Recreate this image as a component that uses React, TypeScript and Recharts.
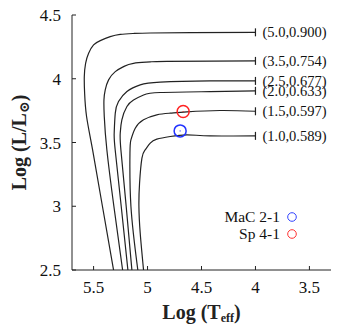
import {
  ComposedChart,
  Line,
  Scatter,
  XAxis,
  YAxis,
  Legend,
} from "recharts";

// post-AGB tracks: log Teff (t) vs log L/Lsun (l)
const track50 = [
  { t: 4.0, l: 4.364 }, { t: 4.6, l: 4.361 }, { t: 4.975, l: 4.359 },
  { t: 5.13, l: 4.355 }, { t: 5.253, l: 4.348 }, { t: 5.346, l: 4.33 },
  { t: 5.438, l: 4.299 }, { t: 5.5, l: 4.265 }, { t: 5.546, l: 4.2 },
  { t: 5.574, l: 4.121 }, { t: 5.586, l: 4.017 }, { t: 5.583, l: 3.886 },
  { t: 5.565, l: 3.704 }, { t: 5.509, l: 3.443 }, { t: 5.418, l: 3.0 },
  { t: 5.315, l: 2.5 },
];
const track35 = [
  { t: 4.0, l: 4.14 }, { t: 4.821, l: 4.137 }, { t: 4.975, l: 4.132 },
  { t: 5.13, l: 4.121 }, { t: 5.222, l: 4.095 }, { t: 5.299, l: 4.056 },
  { t: 5.361, l: 3.991 }, { t: 5.392, l: 3.913 }, { t: 5.404, l: 3.834 },
  { t: 5.401, l: 3.704 }, { t: 5.377, l: 3.443 }, { t: 5.312, l: 3.0 },
  { t: 5.231, l: 2.5 },
];
const track25 = [
  { t: 4.0, l: 3.983 }, { t: 4.42, l: 3.983 }, { t: 4.883, l: 3.973 },
  { t: 5.068, l: 3.952 }, { t: 5.191, l: 3.9 }, { t: 5.269, l: 3.821 },
  { t: 5.299, l: 3.73 }, { t: 5.309, l: 3.573 }, { t: 5.3, l: 3.443 },
  { t: 5.244, l: 3.0 }, { t: 5.182, l: 2.5 },
];
const track20 = [
  { t: 4.0, l: 3.905 }, { t: 4.42, l: 3.899 }, { t: 4.883, l: 3.892 },
  { t: 5.037, l: 3.873 }, { t: 5.13, l: 3.834 }, { t: 5.191, l: 3.782 },
  { t: 5.238, l: 3.678 }, { t: 5.253, l: 3.573 }, { t: 5.247, l: 3.443 },
  { t: 5.198, l: 3.0 }, { t: 5.145, l: 2.5 },
];
const track15 = [
  { t: 4.0, l: 3.745 }, { t: 4.327, l: 3.751 }, { t: 4.636, l: 3.74 },
  { t: 4.79, l: 3.73 }, { t: 4.914, l: 3.717 }, { t: 5.037, l: 3.678 },
  { t: 5.114, l: 3.612 }, { t: 5.154, l: 3.521 }, { t: 5.163, l: 3.416 },
  { t: 5.154, l: 3.0 }, { t: 5.09, l: 2.5 },
];
const track10 = [
  { t: 4.0, l: 3.552 }, { t: 4.42, l: 3.552 }, { t: 4.636, l: 3.56 },
  { t: 4.79, l: 3.547 }, { t: 4.914, l: 3.526 }, { t: 4.975, l: 3.495 },
  { t: 5.022, l: 3.443 }, { t: 5.052, l: 3.377 }, { t: 5.074, l: 3.181 },
  { t: 5.08, l: 3.0 }, { t: 5.068, l: 2.79 }, { t: 5.037, l: 2.5 },
];

const tracks = [track50, track35, track25, track20, track15, track10];
const trackLabels = [
  "(5.0,0.900)",
  "(3.5,0.754)",
  "(2.5,0.677)",
  "(2.0,0.633)",
  "(1.5,0.597)",
  "(1.0,0.589)",
];

const macStar = [{ t: 4.698, l: 3.591 }];
const spStar = [{ t: 4.67, l: 3.743 }];

const tempTicks = [5.5, 5, 4.5, 4, 3.5];
const lumTicks = [2.5, 3, 3.5, 4, 4.5];

const trackEnds = tracks.map((tr, i) => ({
  t: tr[0].t,
  l: tr[0].l,
  name: trackLabels[i],
}));

const FONT = "Liberation Serif, DejaVu Serif, serif";
const INK = "#222";

function EndMark(props: any) {
  const { cx, cy, payload } = props;
  return (
    <g>
      <line x1={cx} y1={cy - 4} x2={cx} y2={cy + 4} stroke={INK} strokeWidth={1.2} />
      <text
        x={cx + 7}
        y={cy}
        dy="0.35em"
        fontFamily={FONT}
        fontSize={14.5}
        fill="#111"
      >
        {payload.name}
      </text>
    </g>
  );
}

function starShape(color: string) {
  return (props: any) => (
    <g>
      <circle cx={props.cx} cy={props.cy} r={6} fill="none" stroke={color} strokeWidth={1.5} />
      <circle cx={props.cx} cy={props.cy} r={0.6} fill={color} />
    </g>
  );
}

function StarLegend() {
  const items = [
    { name: "MaC 2-1", color: "#3344ff" },
    { name: "Sp 4-1", color: "#ff3333" },
  ];
  return (
    <div style={{ fontFamily: FONT, fontSize: 15.5, lineHeight: "17px", color: "#111" }}>
      {items.map((it) => (
        <div
          key={it.name}
          style={{ display: "flex", justifyContent: "flex-end", alignItems: "center", height: 17 }}
        >
          <span>{it.name}</span>
          <svg width={17} height={12}>
            <circle cx={12} cy={6} r={4.3} fill="none" stroke={it.color} strokeWidth={1} />
          </svg>
        </div>
      ))}
    </div>
  );
}

function XTitle(props: any) {
  const { viewBox } = props;
  const cx = viewBox.x + viewBox.width / 2;
  return (
    <text x={cx} y={319} textAnchor="middle" fontFamily={FONT} fontSize={20} fontWeight="bold" fill="#222">
      Log (T<tspan fontSize={12} dy={3}>eff</tspan>
      <tspan dy={-3}>)</tspan>
    </text>
  );
}

function YTitle(props: any) {
  const { viewBox } = props;
  const cy = viewBox.y + viewBox.height / 2;
  return (
    <text
      x={26}
      y={cy}
      transform={`rotate(-90, 26, ${cy})`}
      textAnchor="middle"
      fontFamily={FONT}
      fontSize={20}
      fontWeight="bold"
      fill="#222"
    >
      Log (L/L<tspan fontSize={14} dy={3}>⊙</tspan>
      <tspan dy={-3}>)</tspan>
    </text>
  );
}

const tickStyle = { fontFamily: FONT, fontSize: 17, fill: "#111" };

export default function App() {
  return (
    <div style={{ position: "absolute", left: 0, top: 0, background: "#fff" }}>
      <ComposedChart
        width={344}
        height={325}
        margin={{ top: 15, right: 13, bottom: 0, left: 0 }}
      >
        <XAxis
          xAxisId="bottom"
          dataKey="t"
          type="number"
          domain={[3.3, 5.7]}
          reversed
          allowDataOverflow
          ticks={tempTicks}
          height={55}
          tickSize={-4}
          tickMargin={15}
          tick={tickStyle}
          stroke={INK}
          label={<XTitle />}
        />
        <XAxis
          xAxisId="top"
          orientation="top"
          dataKey="t"
          type="number"
          domain={[3.3, 5.7]}
          reversed
          allowDataOverflow
          ticks={tempTicks}
          height={0}
          tickSize={-4}
          tick={false}
          stroke={INK}
        />
        <YAxis
          yAxisId="left"
          dataKey="l"
          type="number"
          domain={[2.5, 4.5]}
          allowDataOverflow
          ticks={lumTicks}
          width={72}
          tickSize={-4}
          tickMargin={15}
          tick={tickStyle}
          stroke={INK}
          label={<YTitle />}
        />
        <YAxis
          yAxisId="right"
          orientation="right"
          dataKey="l"
          type="number"
          domain={[2.5, 4.5]}
          allowDataOverflow
          ticks={lumTicks}
          width={0}
          tickSize={-4}
          tick={false}
          stroke={INK}
        />
        {tracks.map((tr, i) => (
          <Line
            key={trackLabels[i]}
            xAxisId="bottom"
            yAxisId="left"
            data={tr}
            dataKey="l"
            type="natural"
            stroke={INK}
            strokeWidth={1.2}
            dot={false}
            activeDot={false}
            isAnimationActive={false}
          />
        ))}
        <Scatter
          xAxisId="bottom"
          yAxisId="left"
          data={trackEnds}
          dataKey="l"
          shape={EndMark}
          isAnimationActive={false}
        />
        <Scatter
          xAxisId="bottom"
          yAxisId="left"
          data={macStar}
          dataKey="l"
          shape={starShape("#2233ff")}
          isAnimationActive={false}
        />
        <Scatter
          xAxisId="bottom"
          yAxisId="left"
          data={spStar}
          dataKey="l"
          shape={starShape("#ff2222")}
          isAnimationActive={false}
        />
        <Legend
          layout="vertical"
          align="center"
          verticalAlign="middle"
          content={<StarLegend />}
          wrapperStyle={{ position: "absolute", left: 137, top: 208, width: 160 }}
        />
      </ComposedChart>
    </div>
  );
}
